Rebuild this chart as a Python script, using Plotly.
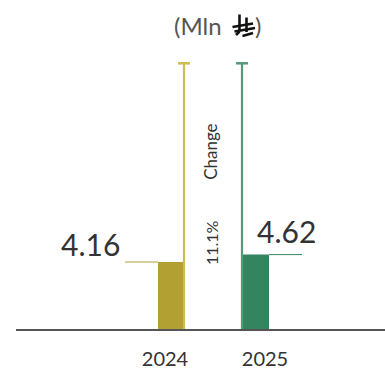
import plotly.graph_objects as go

# Data
years = ["2024", "2025"]
values = [4.16, 4.62]
value_labels = ["4.16", "4.62"]
change_label = "11.1%"
change_title = "Change"
unit_prefix = "(Mln"
unit_suffix = ")"

gold = "#B3A032"
green = "#348460"
gold_line = "#CBBD52"
green_line = "#539B78"
text_dark = "#333333"

W, H = 385, 373
ML, MB, MT, MR = 16, 44, 0, 0
PH = H - MB - MT
PW = W - ML - MR

Y_MAX = 20.43
X_RANGE = [-1.49, 2.20]
LINE_TOP = 16.5


def px(x):
    return (x - ML) / PW


def py(y):
    return (H - MB - y) / PH


fig = go.Figure()
fig.add_trace(go.Bar(
    x=years,
    y=values,
    width=[0.27, 0.28],
    offset=[-0.07, -0.24],
    marker=dict(color=[gold, green], line=dict(width=0)),
    hoverinfo="skip",
))

shapes = []
# vertical "change" bracket lines with caps
for xc, c0, c1, col in [(0.19, 0.13, 0.25, gold_line), (0.77, 0.71, 0.83, green_line)]:
    shapes.append(dict(type="line", xref="x", yref="y", x0=xc, x1=xc, y0=0, y1=LINE_TOP,
                       line=dict(color=col, width=2.2), layer="above"))
    shapes.append(dict(type="line", xref="x", yref="y", x0=c0, x1=c1, y0=LINE_TOP, y1=LINE_TOP,
                       line=dict(color=col, width=2.5), layer="above"))

# leader lines at bar tops
shapes.append(dict(type="line", xref="x", yref="y", x0=-0.40, x1=-0.07, y0=values[0], y1=values[0],
                   line=dict(color=gold, width=1)))
shapes.append(dict(type="line", xref="x", yref="y", x0=1.04, x1=1.37, y0=values[1], y1=values[1],
                   line=dict(color=green, width=1)))

# riyal currency sign drawn as strokes
sign = [
    ((239.5, 14.5), (239.5, 31.5)),
    ((239.5, 31.5), (236.0, 35.0)),
    ((246.5, 17.5), (246.5, 32.0)),
    ((232.5, 27.0), (253.0, 23.5)),
    ((234.5, 31.5), (255.0, 28.0)),
    ((242.5, 36.0), (253.0, 33.0)),
]
for (x0, y0), (x1, y1) in sign:
    shapes.append(dict(type="line", xref="paper", yref="paper",
                       x0=px(x0), y0=py(y0), x1=px(x1), y1=py(y1),
                       line=dict(color="#111111", width=2.6)))

annotations = [
    dict(x=-0.43, y=values[0], xref="x", yref="y", text=value_labels[0], showarrow=False,
         xanchor="right", yanchor="bottom", yshift=-2,
         font=dict(size=30, color=text_dark)),
    dict(x=0.90, y=values[1], xref="x", yref="y", text=value_labels[1], showarrow=False,
         xanchor="left", yanchor="bottom", yshift=4,
         font=dict(size=30, color=text_dark)),
    dict(x=0.46, y=5.34, xref="x", yref="y", text=change_label, showarrow=False,
         textangle=-90, font=dict(size=16, color=text_dark)),
    dict(x=0.46, y=11.0, xref="x", yref="y", text=change_title, showarrow=False,
         textangle=-90, font=dict(size=17, color=text_dark)),
    dict(x=px(224), y=py(26), xref="paper", yref="paper", text=unit_prefix, showarrow=False,
         xanchor="right", yanchor="middle", font=dict(size=24, color="#555555")),
    dict(x=px(253), y=py(26), xref="paper", yref="paper", text=unit_suffix, showarrow=False,
         xanchor="left", yanchor="middle", font=dict(size=24, color="#555555")),
]

fig.update_layout(
    width=W, height=H,
    margin=dict(l=ML, r=MR, t=MT, b=MB),
    paper_bgcolor="white", plot_bgcolor="white",
    showlegend=False,
    font=dict(family="Lato, sans-serif"),
    shapes=shapes,
    annotations=annotations,
    xaxis=dict(type="category", range=X_RANGE, showgrid=False, zeroline=False,
               showline=True, linecolor="#555555", linewidth=1.6,
               ticks="", ticklabelstandoff=11,
               tickfont=dict(size=20, color=text_dark), fixedrange=True),
    yaxis=dict(range=[0, Y_MAX], visible=False, fixedrange=True),
)

fig.write_html("out.html")
